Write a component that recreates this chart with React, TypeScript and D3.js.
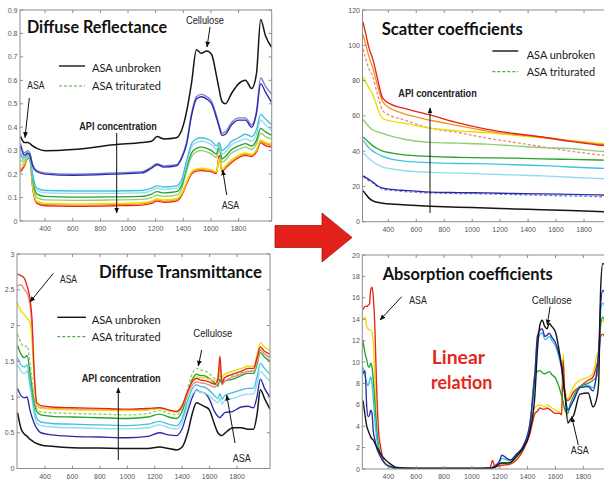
import React from 'react';
import * as d3 from 'd3';

// ---------- Diffuse reflectance ----------
const REFL_WL = [222, 250, 275, 290, 310, 340, 400, 600, 900, 1100, 1170, 1210, 1260, 1350, 1390, 1425, 1460, 1495, 1530, 1570, 1605, 1640, 1660, 1680, 1705, 1750, 1800, 1850, 1895, 1930, 1960, 1995, 2040];
const REFL_UNBROKEN = [0.36, 0.335, 0.335, 0.33, 0.32, 0.31, 0.30, 0.305, 0.325, 0.335, 0.34, 0.36, 0.35, 0.355, 0.39, 0.47, 0.59, 0.73, 0.715, 0.725, 0.71, 0.62, 0.56, 0.51, 0.50, 0.545, 0.585, 0.60, 0.565, 0.63, 0.86, 0.79, 0.74];
const REFL_BLUE_T = [0.33, 0.29, 0.30, 0.29, 0.24, 0.215, 0.205, 0.20, 0.205, 0.21, 0.23, 0.245, 0.235, 0.24, 0.275, 0.34, 0.46, 0.53, 0.54, 0.53, 0.51, 0.45, 0.41, 0.375, 0.38, 0.42, 0.44, 0.44, 0.41, 0.47, 0.61, 0.575, 0.54];
const REFL_BLUE = [0.32, 0.28, 0.29, 0.28, 0.235, 0.21, 0.20, 0.195, 0.20, 0.205, 0.225, 0.24, 0.23, 0.235, 0.27, 0.33, 0.45, 0.52, 0.53, 0.52, 0.50, 0.44, 0.40, 0.365, 0.37, 0.41, 0.43, 0.43, 0.40, 0.46, 0.585, 0.55, 0.505];
const REFL_CYAN = [0.29, 0.27, 0.285, 0.275, 0.20, 0.14, 0.13, 0.128, 0.128, 0.13, 0.14, 0.15, 0.145, 0.15, 0.18, 0.26, 0.33, 0.35, 0.355, 0.35, 0.34, 0.32, 0.335, 0.30, 0.31, 0.34, 0.355, 0.37, 0.36, 0.39, 0.455, 0.435, 0.41];
const REFL_CYAN_T = [0.28, 0.26, 0.28, 0.27, 0.19, 0.13, 0.12, 0.118, 0.118, 0.12, 0.13, 0.14, 0.135, 0.14, 0.17, 0.245, 0.315, 0.335, 0.34, 0.335, 0.325, 0.305, 0.32, 0.285, 0.295, 0.325, 0.34, 0.35, 0.34, 0.37, 0.43, 0.41, 0.385];
const REFL_GREEN = [0.28, 0.26, 0.28, 0.27, 0.18, 0.115, 0.105, 0.102, 0.103, 0.105, 0.115, 0.125, 0.12, 0.125, 0.155, 0.23, 0.29, 0.31, 0.315, 0.31, 0.30, 0.285, 0.325, 0.265, 0.275, 0.305, 0.32, 0.33, 0.32, 0.345, 0.395, 0.38, 0.365];
const REFL_GREEN_T = [0.26, 0.25, 0.275, 0.265, 0.17, 0.10, 0.09, 0.088, 0.09, 0.092, 0.10, 0.11, 0.105, 0.11, 0.14, 0.215, 0.275, 0.295, 0.30, 0.295, 0.285, 0.27, 0.31, 0.25, 0.26, 0.29, 0.305, 0.315, 0.305, 0.33, 0.375, 0.36, 0.35];
const REFL_YELLOW = [0.24, 0.245, 0.275, 0.265, 0.15, 0.085, 0.075, 0.073, 0.075, 0.078, 0.085, 0.095, 0.09, 0.095, 0.12, 0.17, 0.21, 0.222, 0.225, 0.222, 0.218, 0.21, 0.265, 0.22, 0.235, 0.26, 0.28, 0.29, 0.285, 0.305, 0.345, 0.335, 0.33];
const REFL_ORANGE = [0.22, 0.24, 0.27, 0.262, 0.145, 0.08, 0.07, 0.068, 0.07, 0.073, 0.08, 0.09, 0.085, 0.09, 0.115, 0.165, 0.205, 0.218, 0.22, 0.218, 0.214, 0.206, 0.27, 0.215, 0.23, 0.255, 0.275, 0.285, 0.28, 0.30, 0.34, 0.33, 0.322];
const REFL_RED = [0.21, 0.235, 0.268, 0.26, 0.14, 0.075, 0.065, 0.063, 0.065, 0.068, 0.075, 0.085, 0.08, 0.085, 0.11, 0.16, 0.20, 0.213, 0.215, 0.213, 0.21, 0.203, 0.28, 0.21, 0.225, 0.25, 0.27, 0.28, 0.275, 0.295, 0.333, 0.322, 0.315];

// ---------- Scatter coefficients ----------
const SCAT_WL = [220, 240, 260, 290, 320, 360, 420, 500, 700, 900, 1100, 1300, 1500, 1700, 1900, 2040];
const SCAT_UNBROKEN = [17.5, 15.5, 13.5, 11.8, 11, 10.5, 10, 9.6, 8.8, 8.2, 7.8, 7.2, 6.8, 6.3, 5.8, 5.5];
const SCAT_BLUE = [26, 25, 24, 22.5, 20.5, 19, 18.3, 17.8, 16.8, 16.5, 16.3, 16, 15.8, 15.5, 15.2, 15];
const SCAT_BLUE_T = [25.5, 24.5, 23.3, 22, 20, 18.5, 17.8, 17.2, 16.3, 16, 15.8, 15.4, 15, 14.6, 14.2, 14];
const SCAT_CYAN_T = [39, 37.5, 36, 34, 32.5, 31, 30, 29, 28, 27.5, 27, 26.5, 26, 25.2, 24.5, 24];
const SCAT_CYAN = [46, 44, 42, 40, 38.5, 37, 35.5, 34.5, 33.5, 33, 32.8, 32.3, 31.8, 31, 30.3, 30];
const SCAT_GREEN = [48, 46.5, 45, 43, 41.5, 40, 39, 38, 37, 36.5, 36.2, 36, 35.6, 35.3, 35, 34.8];
const SCAT_GREEN_T = [58, 56, 54, 52, 51, 50, 48.5, 47, 45, 44.5, 44, 43, 42, 41.5, 40, 39.5];
const SCAT_RED_T = [98, 92, 87, 82, 73, 63, 60, 58, 53, 50.5, 47.5, 45, 42.5, 40, 38, 37];
const SCAT_YELLOW = [82, 79, 76, 72, 65, 58.5, 57, 56, 53, 51.5, 50.5, 49, 47.5, 46, 44.5, 43.5];
const SCAT_ORANGE = [106, 100, 94, 87, 78, 68, 64, 61.5, 57.5, 54.5, 51.5, 49.5, 48, 46, 44, 43];
const SCAT_RED = [113, 106, 99, 92, 82, 70, 66.5, 64.5, 60.5, 56, 52.5, 50, 48, 45.5, 43.5, 42.5];

// ---------- Diffuse transmittance ----------
const TRANS_WL = [200, 225, 250, 270, 290, 305, 320, 340, 370, 450, 600, 800, 1000, 1150, 1235, 1300, 1360, 1400, 1440, 1475, 1505, 1530, 1560, 1595, 1635, 1660, 1675, 1690, 1710, 1770, 1830, 1880, 1920, 1945, 1970, 2000, 2040];
const TRANS_UNBROKEN = [0.78, 0.56, 0.48, 0.45, 0.41, 0.39, 0.37, 0.35, 0.33, 0.31, 0.29, 0.285, 0.28, 0.28, 0.30, 0.28, 0.26, 0.30, 0.50, 0.78, 0.92, 0.90, 0.87, 0.83, 0.62, 0.50, 0.47, 0.46, 0.49, 0.57, 0.57, 0.55, 0.55, 0.75, 1.10, 0.98, 0.83];
const TRANS_BLUE = [1.12, 1.02, 0.99, 1.0, 0.82, 0.72, 0.64, 0.56, 0.50, 0.47, 0.45, 0.44, 0.43, 0.45, 0.50, 0.47, 0.46, 0.56, 0.80, 1.0, 1.1, 1.07, 1.06, 0.98, 0.80, 0.73, 0.71, 0.74, 0.78, 0.80, 0.86, 0.87, 0.85, 1.0, 1.25, 1.12, 1.0];
const TRANS_CYAN_T = [1.45, 1.36, 1.33, 1.36, 1.15, 0.98, 0.78, 0.64, 0.60, 0.58, 0.57, 0.56, 0.555, 0.57, 0.61, 0.57, 0.55, 0.65, 0.88, 1.04, 1.09, 1.07, 1.06, 1.02, 0.95, 0.92, 0.98, 0.90, 0.95, 0.98, 1.02, 1.04, 1.04, 1.18, 1.36, 1.30, 1.22];
const TRANS_CYAN = [1.55, 1.45, 1.42, 1.45, 1.22, 1.05, 0.85, 0.70, 0.65, 0.63, 0.62, 0.61, 0.60, 0.62, 0.66, 0.62, 0.60, 0.70, 0.95, 1.12, 1.17, 1.15, 1.14, 1.10, 1.02, 0.98, 1.05, 0.97, 1.02, 1.06, 1.10, 1.12, 1.12, 1.28, 1.47, 1.40, 1.32];
const TRANS_GREEN = [1.72, 1.60, 1.55, 1.58, 1.35, 1.15, 0.95, 0.80, 0.75, 0.73, 0.72, 0.71, 0.70, 0.72, 0.76, 0.72, 0.70, 0.80, 1.05, 1.25, 1.32, 1.30, 1.30, 1.26, 1.20, 1.15, 1.25, 1.18, 1.22, 1.25, 1.30, 1.33, 1.33, 1.45, 1.62, 1.56, 1.50];
const TRANS_GREEN_T = [1.88, 1.76, 1.70, 1.72, 1.48, 1.25, 1.0, 0.84, 0.79, 0.78, 0.77, 0.76, 0.75, 0.77, 0.81, 0.77, 0.75, 0.86, 1.12, 1.33, 1.40, 1.38, 1.37, 1.33, 1.26, 1.22, 1.32, 1.24, 1.28, 1.30, 1.34, 1.36, 1.36, 1.48, 1.66, 1.60, 1.54];
const TRANS_YELLOW = [2.32, 2.20, 2.15, 2.10, 2.05, 1.80, 1.30, 0.88, 0.84, 0.83, 0.82, 0.815, 0.81, 0.82, 0.84, 0.81, 0.79, 0.88, 1.08, 1.22, 1.28, 1.27, 1.27, 1.25, 1.23, 1.26, 1.35, 1.28, 1.32, 1.36, 1.40, 1.43, 1.43, 1.58, 1.76, 1.70, 1.65];
const TRANS_RED_T = [2.55, 2.57, 2.50, 2.45, 2.30, 2.00, 1.35, 0.88, 0.85, 0.84, 0.83, 0.82, 0.815, 0.82, 0.84, 0.81, 0.79, 0.86, 1.04, 1.17, 1.21, 1.20, 1.19, 1.17, 1.14, 1.20, 1.45, 1.17, 1.22, 1.28, 1.32, 1.36, 1.36, 1.50, 1.66, 1.60, 1.56];
const TRANS_RED = [2.72, 2.70, 2.66, 2.55, 2.38, 2.10, 1.40, 0.92, 0.88, 0.86, 0.85, 0.84, 0.83, 0.84, 0.85, 0.82, 0.80, 0.88, 1.08, 1.22, 1.26, 1.24, 1.23, 1.21, 1.18, 1.25, 1.57, 1.20, 1.27, 1.32, 1.36, 1.40, 1.40, 1.55, 1.70, 1.64, 1.60];

// ---------- Absorption coefficients ----------
const ABS_WL = [218, 233, 245, 255, 264, 273, 283, 292, 304, 315, 330, 345, 376, 412, 460, 600, 800, 1000, 1130, 1148, 1165, 1200, 1215, 1250, 1275, 1320, 1370, 1417, 1453, 1470, 1489, 1505, 1524, 1540, 1555, 1575, 1600, 1630, 1645, 1655, 1668, 1690, 1705, 1730, 1776, 1835, 1870, 1895, 1910, 1925, 1940, 1960];
const ABS_UNBROKEN = [6.4, 5.0, 4.0, 3.6, 3.3, 3.0, 2.8, 2.7, 2.4, 2.1, 1.8, 1.4, 0.9, 0.5, 0.15, 0.05, 0.05, 0.05, 0.08, 0.1, 0.15, 0.5, 0.55, 0.55, 0.6, 1.2, 2.0, 3.6, 7.0, 11.0, 13.5, 13.9, 13.3, 13.1, 13.6, 13.3, 12.8, 10.8, 9.5, 8.5, 7.0, 4.3, 4.6, 5.0, 7.0, 7.1, 5.8, 6.5, 8.0, 17.0, 19.2, 19.0];
const ABS_BLUE = [8.9, 9.2, 5.8, 4.9, 5.0, 5.5, 5.2, 3.5, 2.7, 2.0, 1.5, 1.1, 0.5, 0.25, 0.1, 0.05, 0.05, 0.05, 0.1, 0.15, 0.3, 0.8, 1.3, 1.0, 0.85, 1.4, 2.2, 4.3, 9.0, 12.4, 13.0, 13.1, 12.4, 12.5, 12.7, 12.3, 11.8, 10.5, 9.5, 8.3, 7.0, 5.5, 5.8, 6.4, 7.6, 7.7, 7.3, 8.9, 11.0, 15.5, 16.7, 16.2];
const ABS_CYAN = [9.5, 8.6, 8.0, 7.8, 8.2, 8.6, 8.0, 6.5, 4.5, 3.0, 1.8, 1.2, 0.5, 0.22, 0.08, 0.05, 0.05, 0.05, 0.08, 0.12, 0.25, 0.65, 1.0, 0.85, 0.75, 1.3, 2.1, 4.2, 8.8, 12.0, 12.6, 12.7, 12.1, 12.2, 12.4, 12.0, 11.5, 10.2, 9.2, 8.0, 6.9, 5.4, 5.8, 6.5, 7.6, 7.8, 7.6, 8.8, 10.5, 14.8, 15.5, 15.0];
const ABS_GREEN = [12.0, 10.8, 10.2, 9.6, 9.5, 9.9, 9.5, 8.3, 6.0, 4.0, 2.1, 1.3, 0.5, 0.2, 0.08, 0.05, 0.05, 0.05, 0.08, 0.1, 0.2, 0.5, 0.6, 0.6, 0.6, 1.15, 2.0, 4.0, 8.9, 9.1, 9.2, 9.0, 8.9, 9.0, 9.1, 8.8, 8.5, 7.5, 6.8, 6.3, 5.5, 5.2, 6.0, 6.8, 7.7, 8.0, 8.3, 8.6, 10.0, 13.5, 14.2, 13.5];
const ABS_YELLOW = [13.9, 14.2, 13.3, 13.1, 13.0, 13.0, 12.8, 11.7, 8.0, 4.0, 2.0, 1.2, 0.6, 0.25, 0.08, 0.05, 0.05, 0.05, 0.08, 0.2, 0.2, 0.45, 0.5, 0.5, 0.5, 0.9, 1.8, 4.0, 5.8, 5.9, 6.0, 5.9, 5.8, 6.0, 5.9, 5.7, 5.5, 5.3, 5.0, 10.8, 7.4, 6.6, 7.0, 7.7, 8.3, 8.6, 8.9, 10.5, 11.0, 13.5, 13.9, 13.3];
const ABS_RED = [14.9, 15.2, 15.2, 15.3, 15.4, 16.7, 17.0, 16.1, 13.0, 8.0, 3.5, 2.0, 0.5, 0.2, 0.08, 0.05, 0.05, 0.05, 0.1, 0.8, 0.2, 0.3, 0.35, 0.4, 0.45, 0.85, 1.8, 3.3, 5.2, 5.4, 5.7, 5.6, 5.6, 5.7, 5.6, 5.4, 5.2, 5.2, 5.1, 10.2, 6.8, 6.4, 6.6, 7.2, 7.7, 8.3, 8.6, 9.6, 10.5, 12.4, 12.6, 12.1];

const X_TICKS = [400, 600, 800, 1000, 1200, 1400, 1600, 1800];
const REFL_Y_TICKS = [0, 0.1, 0.2, 0.3, 0.4, 0.5, 0.6, 0.7, 0.8, 0.9];
const SCAT_Y_TICKS = [0, 20, 40, 60, 80, 100, 120];
const TRANS_Y_TICKS = [0, 0.5, 1, 1.5, 2, 2.5, 3];
const ABS_Y_TICKS = [0, 2, 4, 6, 8, 10, 12, 14, 16, 18, 20];

const C = {
  black: '#151515',
  blue: '#2a2aa8',
  lavender: '#7c7cd6',
  cyan: '#3ec2e0',
  lightCyan: '#96d9ec',
  green: '#26a32a',
  lightGreen: '#90cf72',
  yellow: '#ecdc00',
  orange: '#f5901e',
  red: '#e3261b',
  salmon: '#ee8a7e',
};

type Series = { values: number[]; color: string; width?: number; dash?: string };
type PanelSpec = {
  id: string;
  frame: [number, number, number, number];
  xDomain: [number, number];
  yDomain: [number, number];
  yTicks: number[];
  wl: number[];
  series: Series[];
};

const panels: PanelSpec[] = [
  {
    id: 'refl',
    frame: [20, 271.7, 10, 221],
    xDomain: [218, 2040],
    yDomain: [0, 0.9],
    yTicks: REFL_Y_TICKS,
    wl: REFL_WL,
    series: [
      { values: REFL_RED, color: C.red },
      { values: REFL_ORANGE, color: C.orange },
      { values: REFL_YELLOW, color: C.yellow },
      { values: REFL_GREEN_T, color: C.lightGreen },
      { values: REFL_GREEN, color: C.green },
      { values: REFL_CYAN_T, color: C.lightCyan },
      { values: REFL_CYAN, color: C.cyan },
      { values: REFL_BLUE_T, color: C.lavender },
      { values: REFL_BLUE, color: C.blue },
      { values: REFL_UNBROKEN, color: C.black, width: 1.5 },
    ],
  },
  {
    id: 'scat',
    frame: [362.5, 617.6, 10, 221.7],
    xDomain: [215.5, 2040],
    yDomain: [0, 120],
    yTicks: SCAT_Y_TICKS,
    wl: SCAT_WL,
    series: [
      { values: SCAT_UNBROKEN, color: C.black, width: 1.5 },
      { values: SCAT_BLUE_T, color: C.lavender, dash: '3 2' },
      { values: SCAT_BLUE, color: C.blue },
      { values: SCAT_CYAN_T, color: C.lightCyan },
      { values: SCAT_CYAN, color: C.cyan },
      { values: SCAT_GREEN, color: C.green },
      { values: SCAT_GREEN_T, color: C.lightGreen },
      { values: SCAT_RED_T, color: C.salmon, dash: '3 2' },
      { values: SCAT_YELLOW, color: C.yellow },
      { values: SCAT_ORANGE, color: C.orange },
      { values: SCAT_RED, color: C.red },
    ],
  },
  {
    id: 'trans',
    frame: [17, 270, 254, 468.5],
    xDomain: [196, 2040],
    yDomain: [0, 3],
    yTicks: TRANS_Y_TICKS,
    wl: TRANS_WL,
    series: [
      { values: TRANS_UNBROKEN, color: C.black, width: 1.5 },
      { values: TRANS_BLUE, color: C.blue },
      { values: TRANS_CYAN_T, color: C.lightCyan },
      { values: TRANS_CYAN, color: C.cyan },
      { values: TRANS_GREEN, color: C.green },
      { values: TRANS_GREEN_T, color: C.lightGreen, dash: '3 2' },
      { values: TRANS_RED_T, color: C.salmon },
      { values: TRANS_YELLOW, color: C.yellow },
      { values: TRANS_RED, color: C.red },
    ],
  },
  {
    id: 'abs',
    frame: [362.3, 617, 255, 469],
    xDomain: [213, 2042],
    yDomain: [0, 20],
    yTicks: ABS_Y_TICKS,
    wl: ABS_WL,
    series: [
      { values: ABS_YELLOW, color: C.yellow },
      { values: ABS_RED, color: C.red },
      { values: ABS_GREEN, color: C.green },
      { values: ABS_CYAN, color: C.cyan },
      { values: ABS_BLUE, color: C.blue },
      { values: ABS_UNBROKEN, color: C.black, width: 1.4 },
    ],
  },
];

const TICK_FONT = "'Liberation Sans', Arial, sans-serif";
const TITLE_FONT = "Lato, 'Open Sans', sans-serif";

function Panel({ spec }: { spec: PanelSpec }) {
  const [l, r, t, b] = spec.frame;
  const x = d3.scaleLinear().domain(spec.xDomain).range([l, r]);
  const y = d3.scaleLinear().domain(spec.yDomain).range([b, t]);
  const line = d3
    .line<number>()
    .x((_, i) => x(spec.wl[i]))
    .y((d) => y(d))
    .curve(d3.curveMonotoneX);
  const clipId = `clip-${spec.id}`;
  const tickLen = 3;
  return (
    <g>
      <defs>
        <clipPath id={clipId}>
          <rect x={l} y={t} width={r - l} height={b - t} />
        </clipPath>
      </defs>
      <rect x={l} y={t} width={r - l} height={b - t} fill="#fff" />
      <g clipPath={`url(#${clipId})`}>
        {spec.series.map((s, i) => (
          <path
            key={i}
            d={line(s.values) ?? ''}
            fill="none"
            stroke={s.color}
            strokeWidth={s.width ?? 1.35}
            strokeDasharray={s.dash}
            strokeLinejoin="round"
          />
        ))}
      </g>
      <rect x={l} y={t} width={r - l} height={b - t} fill="none" stroke="#8c8c8c" strokeWidth={1} />
      {X_TICKS.map((v) => (
        <g key={`x${v}`}>
          <line x1={x(v)} x2={x(v)} y1={b} y2={b - tickLen} stroke="#8c8c8c" />
          <line x1={x(v)} x2={x(v)} y1={t} y2={t + tickLen} stroke="#8c8c8c" />
          <text x={x(v)} y={b + 10} fontSize={7} fill="#555" textAnchor="middle" fontFamily={TICK_FONT}>
            {v}
          </text>
        </g>
      ))}
      {spec.yTicks.map((v) => (
        <g key={`y${v}`}>
          <line x1={l} x2={l + tickLen} y1={y(v)} y2={y(v)} stroke="#8c8c8c" />
          <line x1={r} x2={r - tickLen} y1={y(v)} y2={y(v)} stroke="#8c8c8c" />
          <text x={l - 2.5} y={y(v) + 2.5} fontSize={7} fill="#555" textAnchor="end" fontFamily={TICK_FONT}>
            {String(v)}
          </text>
        </g>
      ))}
    </g>
  );
}

function Arrow({ x1, y1, x2, y2 }: { x1: number; y1: number; x2: number; y2: number }) {
  return <line x1={x1} y1={y1} x2={x2} y2={y2} stroke="#111" strokeWidth={1} markerEnd="url(#head)" />;
}

function Label({ x, y, text, w, size = 9.5, bold = false, font = TICK_FONT, fill = '#222' }: any) {
  return (
    <text
      x={x}
      y={y}
      fontSize={size}
      fontWeight={bold ? 700 : 400}
      fontFamily={font}
      fill={fill}
      textLength={w}
      lengthAdjust="spacingAndGlyphs"
    >
      {text}
    </text>
  );
}

function Legend({ lx1, lx2, y1, y2, tx, ty1, ty2, w }: any) {
  return (
    <g>
      <line x1={lx1} x2={lx2} y1={y1} y2={y1} stroke={C.black} strokeWidth={1.4} />
      <line x1={lx1} x2={lx2} y1={y2} y2={y2} stroke="#4fae4f" strokeWidth={1.2} strokeDasharray="3 2" />
      <Label x={tx} y={ty1} text="ASA unbroken" w={w} size={11.5} font={TITLE_FONT} fill="#1a1a1a" />
      <Label x={tx} y={ty2} text="ASA triturated" w={w} size={11.5} font={TITLE_FONT} fill="#1a1a1a" />
    </g>
  );
}

export default function App() {
  return (
    <svg
      width={604}
      height={483}
      viewBox="0 0 604 483"
      style={{ position: 'absolute', left: 0, top: 0, background: '#fff' }}
    >
      <defs>
        <marker id="head" viewBox="0 0 10 10" refX={9} refY={5} markerWidth={6} markerHeight={6} orient="auto">
          <path d="M0,1 L10,5 L0,9 z" fill="#111" />
        </marker>
      </defs>
      <rect width={604} height={483} fill="#fff" />
      {panels.map((p) => (
        <Panel key={p.id} spec={p} />
      ))}

      {/* Diffuse reflectance annotations */}
      <Label x={27} y={33} text="Diffuse Reflectance" w={140} size={16.5} bold font={TITLE_FONT} fill="#111" />
      <Label x={186} y={24} text="Cellulose" w={38} size={10} />
      <Arrow x1={210} y1={27} x2={207} y2={47} />
      <Legend lx1={59} lx2={85} y1={66} y2={86} tx={92} ty1={71.5} ty2={89.5} w={69} />
      <Label x={27.3} y={89.3} text="ASA" w={17} size={10} />
      <Arrow x1={29.3} y1={98} x2={25} y2={137.5} />
      <Label x={79.3} y={130} text="API concentration" w={77.5} size={10} bold />
      <Arrow x1={116.7} y1={133} x2={116.7} y2={213} />
      <Label x={221.7} y={209.3} text="ASA" w={17.5} size={10} />
      <Arrow x1={226.7} y1={195} x2={222.7} y2={170} />

      {/* Scatter coefficient annotations */}
      <Label x={381.7} y={35} text="Scatter coefficients" w={141} size={16.5} bold font={TITLE_FONT} fill="#111" />
      <Legend lx1={492.3} lx2={518.3} y1={51} y2={71.7} tx={526.7} ty1={59.3} ty2={76} w={68.5} />
      <Label x={398.3} y={96.7} text="API concentration" w={78.5} size={10} bold />
      <Arrow x1={430} y1={213} x2={430} y2={108} />

      {/* Diffuse transmittance annotations */}
      <Label x={99} y={278} text="Diffuse Transmittance" w={163} size={16.5} bold font={TITLE_FONT} fill="#111" />
      <Label x={60} y={283.3} text="ASA" w={17} size={10} />
      <Arrow x1={53.3} y1={273.3} x2={30} y2={302} />
      <Legend lx1={57.3} lx2={86} y1={317.3} y2={336.7} tx={91.7} ty1={324.3} ty2={340.7} w={69} />
      <Label x={193.3} y={336.7} text="Cellulose" w={39} size={10} />
      <Arrow x1={201.7} y1={350} x2={198.3} y2={366} />
      <Label x={81.7} y={381.7} text="API concentration" w={79} size={10} bold />
      <Arrow x1={118.3} y1={460} x2={118.3} y2={388} />
      <Label x={232.7} y={462.3} text="ASA" w={18} size={10} />
      <Arrow x1={235} y1={443} x2={226.7} y2={395} />

      {/* Absorption coefficient annotations */}
      <Label x={382.7} y={280} text="Absorption coefficients" w={170} size={16.5} bold font={TITLE_FONT} fill="#111" />
      <Label x={409.3} y={304} text="ASA" w={17.4} size={10} />
      <Arrow x1={401.7} y1={296.7} x2={380} y2={320} />
      <Label x={531.7} y={304} text="Cellulose" w={40} size={10} />
      <Arrow x1={550} y1={306.7} x2={547.3} y2={325} />
      <Label x={570.7} y={454} text="ASA" w={18} size={10} />
      <Arrow x1={578.3} y1={445} x2={571.7} y2={416.7} />
      <Label x={431.7} y={364} text="Linear" w={53.3} size={18} bold font={TITLE_FONT} fill="#e52620" />
      <Label x={431} y={389.3} text="relation" w={61.3} size={18} bold font={TITLE_FONT} fill="#e52620" />

      {/* Transition arrow between the measured and derived panels */}
      <path
        d="M275,225.5 L322,225.5 L322,213 L352,237.5 L322,262 L322,247.5 L275,247.5 Z"
        fill="#e3211b"
        stroke="#a81410"
        strokeWidth={0.8}
        strokeLinejoin="miter"
      />
    </svg>
  );
}
